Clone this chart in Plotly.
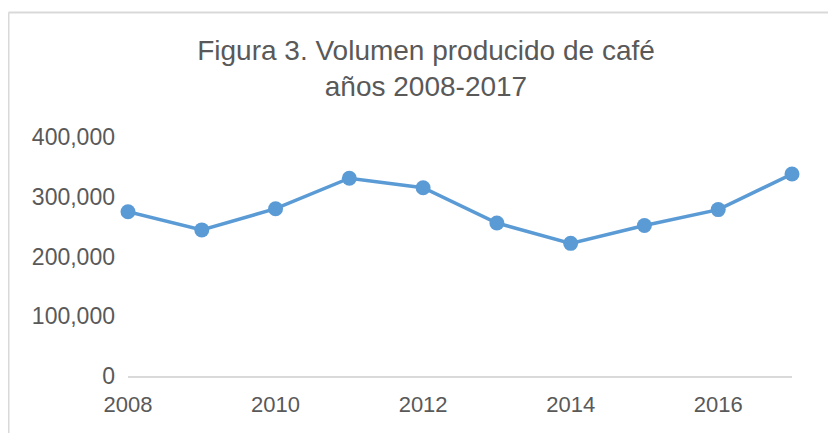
import plotly.graph_objects as go

years = [2008, 2009, 2010, 2011, 2012, 2013, 2014, 2015, 2016, 2017]
volumen = [275000, 244500, 280000, 331000, 315000, 256000, 222000, 252000, 278500, 338000]
y_ticks = [0, 100000, 200000, 300000, 400000]
x_ticks = [2008, 2010, 2012, 2014, 2016]

# page body has an 8px margin, so the figure is drawn 8px smaller and offset
W, H = 828, 425
L, R, T, B = 120, 44, 129, 57
pw, ph = W - L - R, H - T - B

def px_x(p):
    return (p - L) / pw

def px_y(p):
    return (H - B - p) / ph

fig = go.Figure()
fig.add_trace(go.Scatter(
    x=years, y=volumen, mode="lines+markers",
    line=dict(color="#5B9BD5", width=3.5),
    marker=dict(color="#5B9BD5", size=15),
    cliponaxis=False, showlegend=False,
))

gray = "#D9D9D9"
fig.add_shape(type="line", xref="paper", yref="paper",
              x0=px_x(0.5), x1=px_x(0.5), y0=px_y(440), y1=px_y(4.5),
              line=dict(color=gray, width=2))
fig.add_shape(type="line", xref="paper", yref="paper",
              x0=px_x(0.5), x1=px_x(840), y0=px_y(4.5), y1=px_y(4.5),
              line=dict(color=gray, width=2))

fig.update_layout(
    width=W, height=H,
    margin=dict(l=L, r=R, t=T, b=B),
    paper_bgcolor="white", plot_bgcolor="white",
    font=dict(family="Liberation Sans, Arial, sans-serif", color="#595959"),
    title=dict(
        text="Figura 3. Volumen producido de café<br>años 2008-2017",
        x=418 / W, xanchor="center", xref="container",
        y=1 - 52 / H, yanchor="middle", yref="container",
        font=dict(size=28, color="#595959"),
    ),
    xaxis=dict(
        range=[2008, 2017], tickvals=x_ticks, ticktext=[str(v) for v in x_ticks],
        showgrid=False, zeroline=False, showline=True, linecolor=gray, linewidth=1.5,
        ticks="", tickfont=dict(size=22, color="#595959"), ticklabelstandoff=8,
    ),
    yaxis=dict(
        range=[0, 400000], tickvals=y_ticks, tickformat=",",
        showgrid=False, zeroline=False, showline=False,
        ticks="", tickfont=dict(size=23, color="#595959"), ticklabelstandoff=12,
    ),
)

fig.write_html("out.html")
